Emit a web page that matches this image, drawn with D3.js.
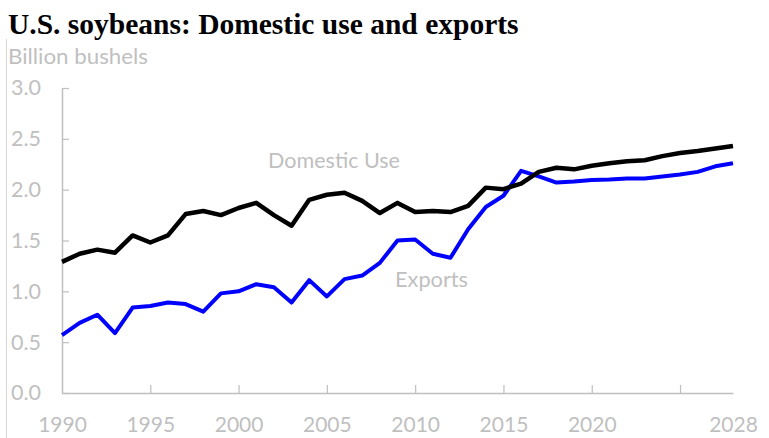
<!DOCTYPE html>
<html>
<head>
<meta charset="utf-8">
<script src="https://cdn.jsdelivr.net/npm/d3@7"></script>
<style>
  html, body { margin: 0; padding: 0; background: #fff; }
  svg { display: block; }
</style>
</head>
<body>
<svg id="chart" width="769" height="438"></svg>
<script>
const years = d3.range(1990, 2029);
const domesticUse = [1.29, 1.37, 1.41, 1.38, 1.55, 1.48, 1.55, 1.76, 1.79, 1.75,
  1.82, 1.87, 1.75, 1.645, 1.90, 1.95, 1.97, 1.89, 1.77, 1.87,
  1.78, 1.79, 1.78, 1.84, 2.02, 2.005, 2.06, 2.175, 2.215, 2.20,
  2.235, 2.26, 2.28, 2.29, 2.33, 2.36, 2.38, 2.405, 2.43];
const exportsSeries = [0.57, 0.69, 0.77, 0.59, 0.84, 0.855, 0.89, 0.875, 0.80, 0.98,
  1.00, 1.07, 1.04, 0.89, 1.11, 0.95, 1.12, 1.155, 1.28, 1.50,
  1.51, 1.37, 1.33, 1.61, 1.83, 1.94, 2.185, 2.13, 2.07, 2.08,
  2.095, 2.10, 2.11, 2.11, 2.13, 2.15, 2.175, 2.23, 2.26];
const yTicks = [0, 0.5, 1.0, 1.5, 2.0, 2.5, 3.0];
const xTickValues = [1990, 1995, 2000, 2005, 2010, 2015, 2020, 2025, 2028];
const xTickLabels = ["1990", "1995", "2000", "2005", "2010", "2015", "2020", "", "2028"];
const titleText = "U.S. soybeans: Domestic use and exports";
const unitText = "Billion bushels";
const seriesLabels = ["Domestic Use", "Exports"];

const svg = d3.select("#chart");
const gray = "#bfbfbf";
const font = "Lato, 'Open Sans', sans-serif";

const x = d3.scaleLinear().domain([1990, 2028]).range([62, 733]);
const y = d3.scaleLinear().domain([0, 3]).range([393, 88]);

// left border line
svg.append("line").attr("x1", 6.5).attr("x2", 6.5).attr("y1", 39).attr("y2", 438)
  .attr("stroke", "#d9d9d9").attr("stroke-width", 1);

// title
svg.append("text").attr("x", 8).attr("y", 34)
  .attr("font-family", "'Liberation Serif', 'Times New Roman', serif")
  .attr("font-weight", "bold").attr("font-size", 29.5).attr("fill", "#000")
  .text(titleText);

svg.append("text").attr("x", 8).attr("y", 64)
  .attr("font-family", font).attr("font-size", 21).attr("fill", gray)
  .attr("textLength", 140).attr("lengthAdjust", "spacingAndGlyphs")
  .text(unitText);

// y axis
const yAxis = d3.axisLeft(y).tickValues(yTicks).tickFormat(d3.format(".1f"))
  .tickSizeInner(-7).tickSizeOuter(0).tickPadding(21);
const gy = svg.append("g").attr("transform", "translate(62,0)").call(yAxis);
gy.select(".domain").attr("stroke", gray).attr("stroke-width", 1.5);
gy.selectAll(".tick line").attr("stroke", gray).attr("stroke-width", 1.2);
gy.selectAll(".tick text").attr("font-family", font).attr("font-size", 21.5).attr("fill", gray);

// x axis
const xAxis = d3.axisBottom(x).tickValues(xTickValues)
  .tickFormat((d, i) => xTickLabels[i])
  .tickSizeInner(-8).tickSizeOuter(0).tickPadding(24);
const gx = svg.append("g").attr("transform", "translate(0,393)").call(xAxis);
gx.select(".domain").attr("stroke", gray).attr("stroke-width", 1.5);
gx.selectAll(".tick line").attr("stroke", gray).attr("stroke-width", 1.2)
  .attr("display", d => (d === 1990 || d === 2028) ? "none" : null);
gx.selectAll(".tick text").attr("font-family", font).attr("font-size", 21).attr("fill", gray);

// lines
const line = d3.line().x((d, i) => x(years[i])).y(d => y(d));
svg.append("path").datum(exportsSeries).attr("d", line)
  .attr("fill", "none").attr("stroke", "#0000ff").attr("stroke-width", 4)
  .attr("stroke-linejoin", "round");
svg.append("path").datum(domesticUse).attr("d", line)
  .attr("fill", "none").attr("stroke", "#000").attr("stroke-width", 4.5)
  .attr("stroke-linejoin", "round");

// series labels
svg.append("text").attr("x", 268).attr("y", 168)
  .attr("font-family", font).attr("font-size", 21).attr("fill", gray)
  .attr("textLength", 132).attr("lengthAdjust", "spacingAndGlyphs")
  .text(seriesLabels[0]);
svg.append("text").attr("x", 395).attr("y", 287)
  .attr("font-family", font).attr("font-size", 21).attr("fill", gray)
  .attr("textLength", 73).attr("lengthAdjust", "spacingAndGlyphs")
  .text(seriesLabels[1]);
</script>
</body>
</html>
